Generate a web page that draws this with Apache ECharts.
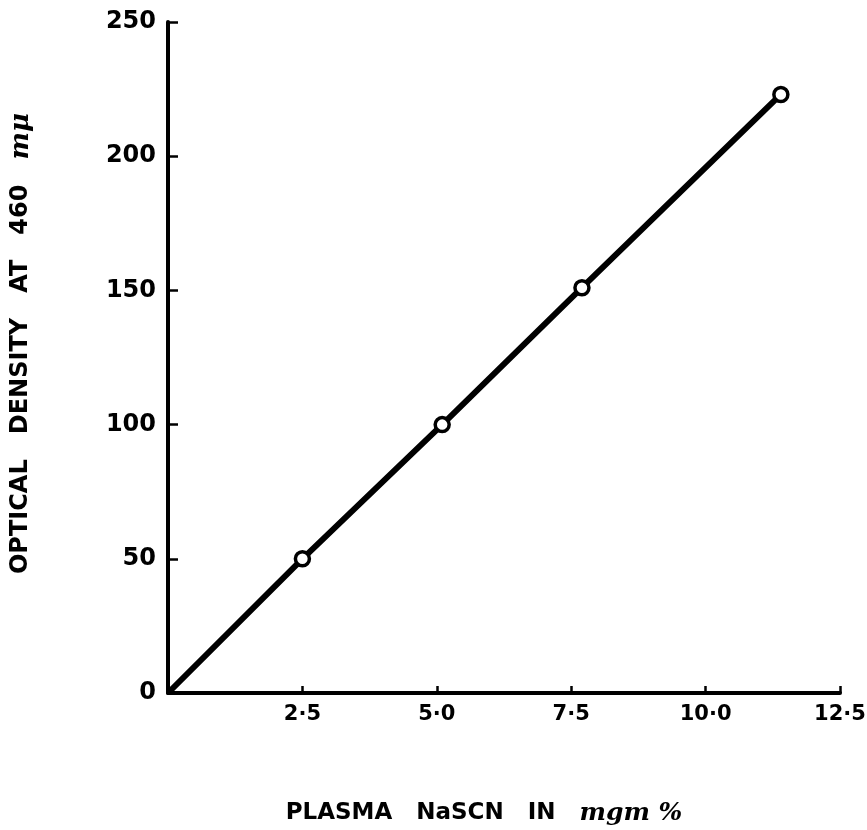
<!DOCTYPE html>
<html>
<head>
<meta charset="utf-8">
<title>Plasma NaSCN calibration</title>
<script src="https://cdn.jsdelivr.net/npm/echarts@6/dist/echarts.min.js"></script>
<style>
  html, body { margin: 0; padding: 0; background: #fff; }
  #chart { width: 867px; height: 830px; }
</style>
</head>
<body>
<div id="chart"></div>
<script>
// values
const nascn = [0, 2.5, 5.1, 7.7, 11.4]        // mgm %
const density = [0, 50, 100, 151, 223]        // optical density at 460 mμ
const xTicks = [0, 2.5, 5.0, 7.5, 10.0, 12.5]
const yTicks = [0, 50, 100, 150, 200, 250]

const ink = '#000'
const font = 'DejaVu Sans'

const points = nascn.map((x, i) => ({
  value: [x, density[i]],
  symbol: i === 0 ? 'none' : 'circle'
}))

const chart = echarts.init(document.getElementById('chart'))

chart.setOption({
  backgroundColor: '#fff',
  animation: false,
  grid: { left: 168, right: 27, top: 22, bottom: 137, outerBoundsMode: 'none' },
  xAxis: {
    type: 'value',
    min: xTicks[0],
    max: xTicks[xTicks.length - 1],
    interval: 2.5,
    splitLine: { show: false },
    axisLine: { lineStyle: { color: ink, width: 4 } },
    axisTick: { inside: true, length: 7, lineStyle: { color: ink, width: 2.5 } },
    axisLabel: {
      color: ink, fontFamily: font, fontWeight: 'bold', fontSize: 21, margin: 11,
      formatter: v => v === 0 ? '' : v.toFixed(1).replace('.', '·')
    },
    name: 'PLASMA   NaSCN   IN   {i|mgm %}',
    nameLocation: 'middle',
    nameGap: 108,
    nameTextStyle: {
      color: ink, fontFamily: font, fontWeight: 'bold', fontSize: 23,
      padding: [0, 40, 0, 0],
      rich: { i: { fontFamily: 'DejaVu Serif', fontStyle: 'italic', fontWeight: 'bold', fontSize: 25, color: ink } }
    }
  },
  yAxis: {
    type: 'value',
    min: yTicks[0],
    max: yTicks[yTicks.length - 1],
    interval: 50,
    splitLine: { show: false },
    axisLine: { lineStyle: { color: ink, width: 4 } },
    axisTick: { inside: true, length: 10, lineStyle: { color: ink, width: 2.5 } },
    axisLabel: { color: ink, fontFamily: font, fontWeight: 'bold', fontSize: 24, margin: 12 },
    name: 'OPTICAL   DENSITY   AT   460   {i|mμ}',
    nameLocation: 'middle',
    nameGap: 134,
    nameRotate: 90,
    nameTextStyle: {
      color: ink, fontFamily: font, fontWeight: 'bold', fontSize: 24,
      padding: [0, 0, 0, 28],
      rich: { i: { fontFamily: 'DejaVu Serif', fontStyle: 'italic', fontWeight: 'bold', fontSize: 26, color: ink } }
    }
  },
  series: [{
    type: 'line',
    data: points,
    symbolSize: 14,
    showAllSymbol: true,
    lineStyle: { color: ink, width: 6 },
    itemStyle: { color: '#fff', borderColor: ink, borderWidth: 3.5 },
    z: 3
  }]
})

window.addEventListener('resize', () => chart.resize())
</script>
</body>
</html>
